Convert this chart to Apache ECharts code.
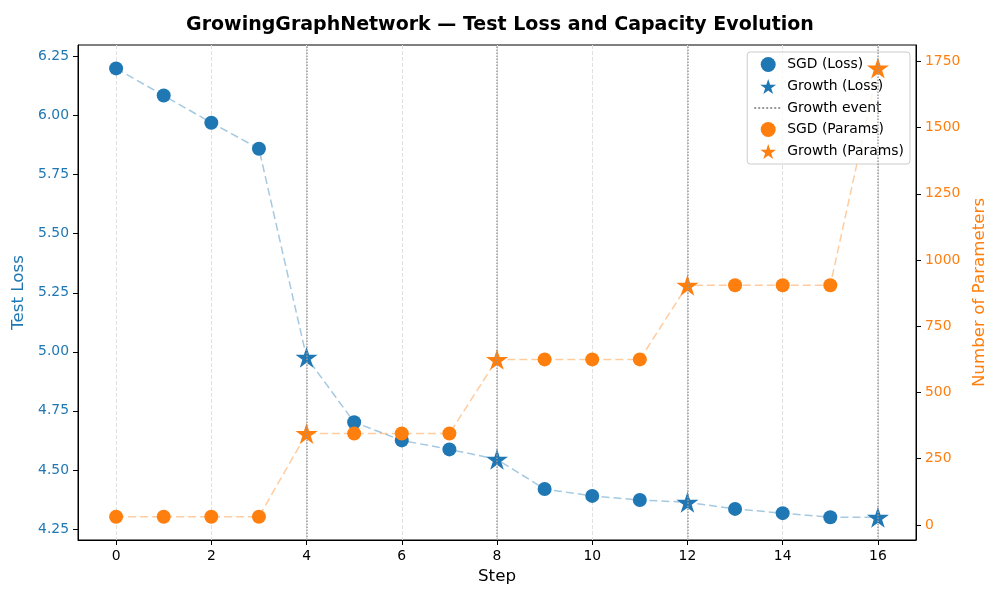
<!DOCTYPE html>
<html>
<head>
    <meta charset="utf-8">
    <title>GrowingGraphNetwork</title>
    <script src="https://cdn.jsdelivr.net/npm/echarts@6/dist/echarts.min.js"></script>
</head>
<body style="margin:0">
    <div id="main" style="width: 1000px;height:600px;"></div>
    <script type="text/javascript">
// data
var steps = [0, 1, 2, 3, 4, 5, 6, 7, 8, 9, 10, 11, 12, 13, 14, 15, 16];
var testLoss = [6.20, 6.085, 5.97, 5.86, 4.977, 4.702, 4.625, 4.587, 4.545, 4.419, 4.39, 4.373, 4.363, 4.335, 4.317, 4.30, 4.30];
var numParams = [31, 31, 31, 31, 345, 345, 345, 345, 625, 625, 625, 625, 905, 905, 905, 905, 1725];
var growthSteps = [4, 8, 12, 16];
var stepTicks = [0, 2, 4, 6, 8, 10, 12, 14, 16];
var lossTicks = [4.25, 4.5, 4.75, 5.0, 5.25, 5.5, 5.75, 6.0, 6.25];
var paramTicks = [0, 250, 500, 750, 1000, 1250, 1500, 1750];

var blue = '#1f77b4';
var orange = '#ff7f0e';
var font = 'DejaVu Sans';
var star = 'path://M50,0 L61.23,34.55 L97.55,34.55 L68.17,55.9 L79.39,90.45 L50,69.1 L20.61,90.45 L31.83,55.9 L2.45,34.55 L38.77,34.55 Z';

function pick(vals, growth) {
    var out = [];
    steps.forEach(function (s, i) {
        var isGrowth = growthSteps.indexOf(s) >= 0;
        if (isGrowth === growth) out.push([s, vals[i]]);
    });
    return out;
}
function pairs(vals) {
    return steps.map(function (s, i) { return [s, vals[i]]; });
}

var myChart = echarts.init(document.getElementById('main'));

option = {
    animation: false,
    backgroundColor: '#fff',
    textStyle: { fontFamily: font },
    title: {
        text: 'GrowingGraphNetwork — Test Loss and Capacity Evolution',
        left: 'center',
        top: 11,
        textStyle: { fontFamily: font, fontSize: 19, fontWeight: 'bold', color: '#000' }
    },
    grid: {
        left: 78, right: 84, top: 45, bottom: 60,
        show: true, borderColor: '#000', borderWidth: 1
    },
    legend: {
        orient: 'vertical',
        right: 90,
        top: 52,
        padding: [5, 6, 5, 6],
        itemGap: 7,
        itemWidth: 28,
        itemHeight: 15,
        backgroundColor: 'rgba(255,255,255,0.8)',
        borderColor: '#ccc',
        borderWidth: 1,
        borderRadius: 3,
        textStyle: { fontFamily: font, fontSize: 13.9, color: '#000' },
        data: ['SGD (Loss)', 'Growth (Loss)',
            { name: 'Growth event', itemStyle: { opacity: 0 } },
            'SGD (Params)', 'Growth (Params)']
    },
    xAxis: {
        type: 'value',
        min: -0.8,
        max: 16.8,
        name: 'Step',
        nameLocation: 'middle',
        nameGap: 27,
        nameTextStyle: { fontFamily: font, fontSize: 16.7, color: '#000' },
        axisLine: { onZero: false, lineStyle: { color: '#000' } },
        axisTick: { customValues: stepTicks, length: 5, lineStyle: { color: '#000' } },
        axisLabel: { customValues: stepTicks, margin: 9, fontSize: 13.9, color: '#000', fontFamily: font },
        splitLine: { show: true, lineStyle: { type: 'dashed', color: '#e0e0e0', width: 1 } }
    },
    yAxis: [{
        type: 'value',
        position: 'left',
        min: 4.2034,
        max: 6.299,
        name: 'Test Loss',
        nameLocation: 'middle',
        nameGap: 45,
        nameTextStyle: { fontFamily: font, fontSize: 16.7, color: blue },
        axisLine: { show: true, onZero: false, lineStyle: { color: '#000' } },
        axisTick: { show: true, customValues: lossTicks, length: 5, lineStyle: { color: '#000' } },
        axisLabel: {
            customValues: lossTicks, margin: 9, fontSize: 13.9, color: blue, fontFamily: font,
            formatter: function (v) { return v.toFixed(2); }
        },
        splitLine: { show: false }
    }, {
        type: 'value',
        position: 'right',
        min: -56.8,
        max: 1812,
        name: 'Number of Parameters',
        nameLocation: 'middle',
        nameGap: 48,
        nameTextStyle: { fontFamily: font, fontSize: 16.7, color: orange },
        axisLine: { show: true, onZero: false, lineStyle: { color: '#000' } },
        axisTick: { show: true, customValues: paramTicks, length: 5, lineStyle: { color: '#000' } },
        axisLabel: {
            customValues: paramTicks, margin: 9, fontSize: 13.9, color: orange, fontFamily: font,
            formatter: function (v) { return String(v); }
        },
        splitLine: { show: false }
    }],
    series: [{
        name: 'Growth event',
        type: 'line',
        symbol: 'none',
        data: [],
        color: '#999',
        lineStyle: { type: 'dotted', color: '#999', width: 1.5 },
        markLine: {
            silent: true,
            symbol: ['none', 'none'],
            label: { show: false },
            lineStyle: { type: 'dotted', color: '#999', width: 1.5 },
            data: growthSteps.map(function (s) { return { xAxis: s }; })
        },
        z: 1
    }, {
        name: 'lossLine',
        type: 'line',
        yAxisIndex: 0,
        symbol: 'none',
        data: pairs(testLoss),
        lineStyle: { type: [8, 4], color: 'rgba(31,119,180,0.4)', width: 1.5 },
        z: 2
    }, {
        name: 'paramsLine',
        type: 'line',
        yAxisIndex: 1,
        symbol: 'none',
        data: pairs(numParams),
        lineStyle: { type: [8, 4], color: 'rgba(255,127,14,0.4)', width: 1.5 },
        z: 2
    }, {
        name: 'SGD (Loss)',
        type: 'scatter',
        yAxisIndex: 0,
        symbol: 'circle',
        symbolSize: 14,
        itemStyle: { color: blue, opacity: 1 },
        data: pick(testLoss, false),
        z: 3
    }, {
        name: 'Growth (Loss)',
        type: 'scatter',
        yAxisIndex: 0,
        symbol: star,
        symbolKeepAspect: true,
        symbolSize: 22,
        itemStyle: { color: blue, opacity: 1 },
        data: pick(testLoss, true),
        z: 3
    }, {
        name: 'SGD (Params)',
        type: 'scatter',
        yAxisIndex: 1,
        symbol: 'circle',
        symbolSize: 14,
        itemStyle: { color: orange, opacity: 1 },
        data: pick(numParams, false),
        z: 4
    }, {
        name: 'Growth (Params)',
        type: 'scatter',
        yAxisIndex: 1,
        symbol: star,
        symbolKeepAspect: true,
        symbolSize: 22,
        itemStyle: { color: orange, opacity: 1 },
        data: pick(numParams, true),
        z: 4
    }]
};

myChart.setOption(option);
    </script>
</body>
</html>
